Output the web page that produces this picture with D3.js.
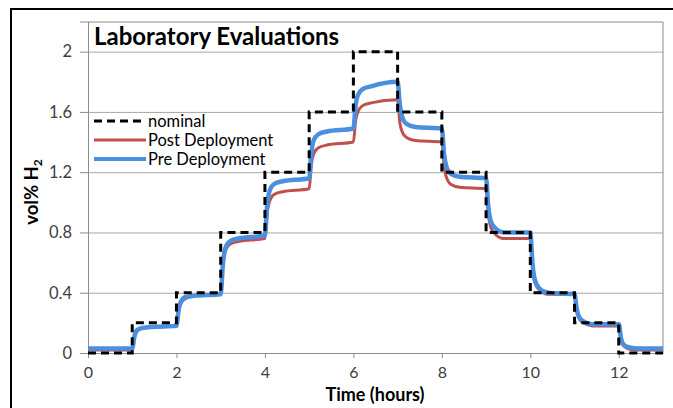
<!DOCTYPE html>
<html>
<head>
<meta charset="utf-8">
<script src="https://cdn.jsdelivr.net/npm/d3@7"></script>
<style>
  body { margin: 0; background: #fff; }
  svg { display: block; font-family: Lato, "Open Sans", sans-serif; }
</style>
</head>
<body>
<div id="chart"></div>
<script>
// nominal set points (step function, value held from t to next t)
const nominalTimes = [0, 1, 2, 3, 4, 5, 6, 7, 8, 9, 10, 11, 12, 13];
const nominalValues = [0, 0.2, 0.4, 0.8, 1.2, 1.6, 2.0, 1.6, 1.2, 0.8, 0.4, 0.2, 0, 0];

// sensor readings
const sensorTimes = [0,
  1, 1.05, 1.1, 1.2, 1.4,
  2, 2.05, 2.1, 2.2, 2.4,
  3, 3.05, 3.1, 3.2, 3.4,
  4, 4.05, 4.1, 4.2, 4.4,
  5, 5.05, 5.1, 5.2, 5.4,
  6, 6.05, 6.1, 6.2, 6.4,
  7, 7.05, 7.1, 7.2, 7.4,
  8, 8.05, 8.1, 8.2, 8.4,
  9, 9.05, 9.1, 9.2, 9.4,
  10, 10.05, 10.1, 10.2, 10.4,
  11, 11.05, 11.1, 11.2, 11.4,
  12, 12.05, 12.1, 12.2, 12.4,
  13];

const preDeployment = [0.03,
  0.03, 0.11, 0.15, 0.165, 0.172,
  0.18, 0.29, 0.34, 0.37, 0.38,
  0.39, 0.59, 0.69, 0.74, 0.76,
  0.78, 0.98, 1.07, 1.12, 1.14,
  1.16, 1.33, 1.41, 1.45, 1.47,
  1.49, 1.64, 1.71, 1.75, 1.77,
  1.80, 1.65, 1.57, 1.52, 1.50,
  1.49, 1.32, 1.24, 1.19, 1.17,
  1.16, 0.97, 0.88, 0.83, 0.80,
  0.80, 0.59, 0.49, 0.43, 0.40,
  0.39, 0.29, 0.24, 0.21, 0.19,
  0.19, 0.10, 0.06, 0.04, 0.03,
  0.03];

const postDeployment = [0.02,
  0.02, 0.10, 0.14, 0.16, 0.17,
  0.18, 0.28, 0.33, 0.36, 0.38,
  0.39, 0.58, 0.67, 0.72, 0.74,
  0.76, 0.93, 1.00, 1.05, 1.07,
  1.09, 1.25, 1.32, 1.36, 1.38,
  1.40, 1.54, 1.60, 1.64, 1.66,
  1.68, 1.53, 1.47, 1.43, 1.41,
  1.40, 1.24, 1.17, 1.12, 1.10,
  1.09, 0.92, 0.84, 0.79, 0.76,
  0.76, 0.57, 0.47, 0.42, 0.39,
  0.39, 0.28, 0.23, 0.20, 0.18,
  0.18, 0.09, 0.05, 0.03, 0.02,
  0.02];

const yTicks = [0, 0.4, 0.8, 1.2, 1.6, 2];
const yTickLabels = ["0", "0.4", "0.8", "1.2", "1.6", "2"];
const xTicks = [0, 2, 4, 6, 8, 10, 12];
const seriesNames = ["nominal", "Post Deployment", "Pre Deployment"];

const W = 673, H = 408;
const margin = { top: 21.5, right: 10, bottom: 55, left: 88 };
const width = W - margin.left - margin.right;
const height = H - margin.top - margin.bottom;

const svg = d3.select("#chart").append("svg")
    .attr("width", W)
    .attr("height", H);

// outer chart frame (runs off the page right and bottom)
svg.append("rect")
    .attr("x", 11).attr("y", 9)
    .attr("width", 700).attr("height", 500)
    .attr("fill", "none")
    .attr("stroke", "#000")
    .attr("stroke-width", 2);

const g = svg.append("g")
    .attr("transform", `translate(${margin.left},${margin.top})`);

const x = d3.scaleLinear().domain([0, 13]).range([0, width]);
const y = d3.scaleLinear().domain([0, 2.2]).range([height, 0]);

// gridlines
g.append("g")
    .call(d3.axisLeft(y).tickValues(yTicks).tickSize(-width).tickFormat(""))
    .call(a => a.select(".domain").remove())
    .selectAll("line").attr("stroke", "#a6a6a6");

// plot frame top/right
g.append("path")
    .attr("d", `M0,0.5H${width}V${height}`)
    .attr("fill", "none")
    .attr("stroke", "#8c8c8c");

// y axis
const yAxis = g.append("g")
    .call(d3.axisLeft(y).tickValues(yTicks).tickSize(8).tickPadding(8)
        .tickFormat((d, i) => yTickLabels[i]));
yAxis.select(".domain").attr("stroke", "#8c8c8c");
yAxis.selectAll("line").attr("stroke", "#8c8c8c");
yAxis.selectAll("text").attr("fill", "#404040").style("font-size", "16.5px").style("font-family", "Lato");

// x axis
const xAxis = g.append("g")
    .attr("transform", `translate(0,${height})`)
    .call(d3.axisBottom(x).tickValues(xTicks).tickSize(5).tickPadding(9).tickSizeOuter(0));
xAxis.select(".domain").attr("stroke", "#8c8c8c");
xAxis.selectAll("line").attr("stroke", "#8c8c8c");
xAxis.selectAll("text").attr("fill", "#404040").style("font-size", "16px").style("font-family", "Lato");

// lines
const line = d3.line()
    .x(d => x(d[0]))
    .y(d => y(d[1]))
    .curve(d3.curveMonotoneX);

const postData = sensorTimes.map((t, i) => [t, postDeployment[i]]);
const preData = sensorTimes.map((t, i) => [t, preDeployment[i]]);
const nomData = nominalTimes.map((t, i) => [t, nominalValues[i]]);

g.append("path")
    .attr("d", line(postData))
    .attr("fill", "none")
    .attr("stroke", "#c0504d")
    .attr("stroke-width", 3);

g.append("path")
    .attr("d", line(preData))
    .attr("fill", "none")
    .attr("stroke", "#4a8fe0")
    .attr("stroke-width", 4.5);

g.append("path")
    .attr("d", d3.line().x(d => x(d[0])).y(d => y(d[1])).curve(d3.curveStepAfter)(nomData))
    .attr("fill", "none")
    .attr("stroke", "#000")
    .attr("stroke-width", 3)
    .attr("stroke-dasharray", "8,5");

// title
svg.append("text")
    .attr("x", 94).attr("y", 45)
    .attr("font-weight", "bold")
    .style("font-size", "24px")
    .attr("fill", "#000")
    .text("Laboratory Evaluations");

// legend
const legendStyles = [
  { color: "#000", width: 3, dash: "8,5" },
  { color: "#c0504d", width: 3, dash: null },
  { color: "#4a8fe0", width: 4, dash: null }
];
const legend = svg.append("g").attr("transform", "translate(94,121)");
seriesNames.forEach((name, i) => {
  const row = legend.append("g").attr("transform", `translate(0,${i * 19})`);
  row.append("line")
      .attr("x1", 0).attr("x2", 52)
      .attr("stroke", legendStyles[i].color)
      .attr("stroke-width", legendStyles[i].width)
      .attr("stroke-dasharray", legendStyles[i].dash);
  row.append("text")
      .attr("x", 54).attr("y", 6)
      .style("font-size", "16.5px")
      .attr("fill", "#000")
      .text(name);
});

// axis titles
svg.append("text")
    .attr("x", 375).attr("y", 401)
    .attr("text-anchor", "middle")
    .attr("font-weight", "bold")
    .style("font-size", "18px")
    .text("Time (hours)");

const yLabel = svg.append("text")
    .attr("transform", "translate(38,192) rotate(-90)")
    .attr("text-anchor", "middle")
    .attr("font-weight", "bold")
    .style("font-size", "18.5px");
yLabel.append("tspan").text("vol% H");
yLabel.append("tspan").attr("dy", 4).style("font-size", "12px").text("2");
</script>
</body>
</html>
